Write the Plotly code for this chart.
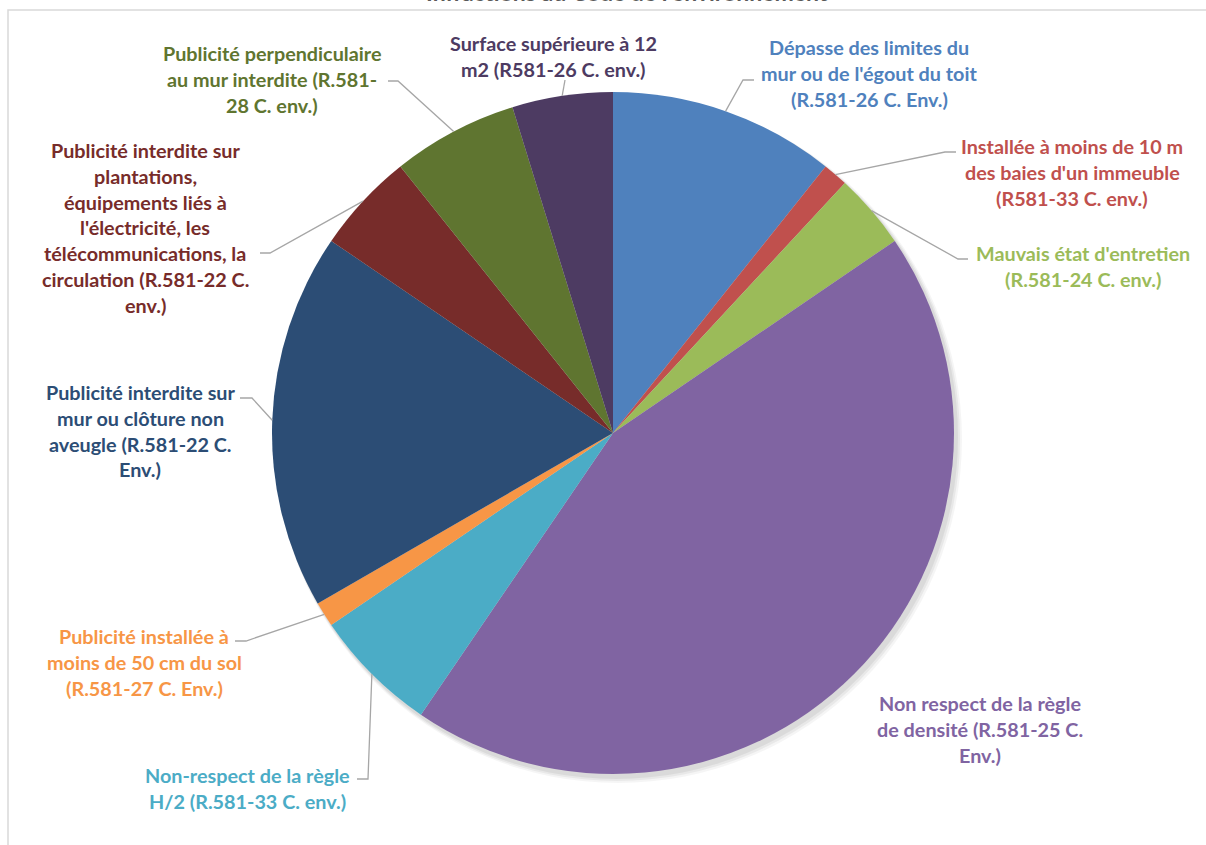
import math
import plotly.graph_objects as go

W, H = 1206, 845
FONT = "Lato"

# data
categories = [
    "Dépasse des limites du mur ou de l'égout du toit (R.581-26 C. Env.)",
    "Installée à moins de 10 m des baies d'un immeuble (R581-33 C. env.)",
    "Mauvais état d'entretien (R.581-24 C. env.)",
    "Non respect de la règle de densité (R.581-25 C. Env.)",
    "Non-respect de la règle H/2 (R.581-33 C. env.)",
    "Publicité installée à moins de 50 cm du sol (R.581-27 C. Env.)",
    "Publicité interdite sur mur ou clôture non aveugle (R.581-22 C. Env.)",
    "Publicité interdite sur plantations, équipements liés à l'électricité, "
    "les télécommunications, la circulation (R.581-22 C. env.)",
    "Publicité perpendiculaire au mur interdite (R.581-28 C. env.)",
    "Surface supérieure à 12 m2 (R581-26 C. env.)",
]
counts = [9, 1, 3, 37, 5, 1, 15, 4, 5, 4]
label_lines = [
    ["Dépasse des limites du", "mur ou de l'égout du toit", "(R.581-26 C. Env.)"],
    ["Installée à moins de 10 m", "des baies d'un immeuble", "(R581-33 C. env.)"],
    ["Mauvais état d'entretien", "(R.581-24 C. env.)"],
    ["Non respect de la règle", "de densité (R.581-25 C.", "Env.)"],
    ["Non-respect de la règle", "H/2 (R.581-33 C. env.)"],
    ["Publicité installée à", "moins de 50 cm du sol", "(R.581-27 C. Env.)"],
    ["Publicité interdite sur", "mur ou clôture non", "aveugle (R.581-22 C.", "Env.)"],
    ["Publicité interdite sur", "plantations,", "équipements liés à", "l'électricité, les",
     "télécommunications, la", "circulation (R.581-22 C.", "env.)"],
    ["Publicité perpendiculaire", "au mur interdite (R.581-", "28 C. env.)"],
    ["Surface supérieure à 12", "m2 (R581-26 C. env.)"],
]
title_text = "Infractions au Code de l'environnement"

colors = ["#4F81BD", "#C0504D", "#9BBB59", "#8064A2", "#4BACC6",
          "#F79646", "#2C4D75", "#772C2A", "#5F7530", "#4D3B62"]

# layout of the labels (pixels): centre x, y of first line
label_pos = [(869, 47), (1072, 146), (1083, 253), (980, 703), (247, 775),
             (144, 636), (140, 392), (145, 150), (272, 53), (553, 43)]
LINE_STEP = 25.8
# leader lines: elbow point and end point (None = no leader)
leaders = [((743, 80), (754, 80)), ((945, 152), (956, 152)), ((958, 259), (968, 259)),
           None, ((368, 779), (357, 779)), ((246, 641), (235, 641)),
           ((252, 398), (240, 398)), ((270, 253), (260, 253)),
           ((398, 81), (388, 81)), ((565, 80), (565, 80))]

CX, CY, R = 613, 433, 341


def px(x, y):
    return x / W, 1 - y / H


fig = go.Figure()
fig.add_trace(go.Pie(
    labels=categories, values=counts, sort=False, direction="clockwise", rotation=0,
    marker=dict(colors=colors, line=dict(width=0)), textinfo="none", hoverinfo="label+value",
    domain=dict(x=[(CX - R) / W, (CX + R) / W], y=[1 - (CY + R) / H, 1 - (CY - R) / H]),
    showlegend=False,
))

shapes = []
# soft shadow under the pie
for k, op in [(6, 0.04), (4, 0.05), (2, 0.06)]:
    x0, y0 = px(CX - R + 2, CY - R + 3)
    x1, y1 = px(CX + R + 2 + k, CY + R + 3 + k)
    shapes.append(dict(type="circle", xref="paper", yref="paper", x0=x0, x1=x1, y0=y1, y1=y0,
                       fillcolor=f"rgba(0,0,0,{op})", line=dict(width=0), layer="below"))

# border of the chart area
bx0, by0 = px(8, 10)
shapes.append(dict(type="rect", xref="paper", yref="paper", x0=bx0, y0=-0.05, x1=1.05, y1=by0,
                   line=dict(color="#D9D9D9", width=1.5), layer="below"))

total = sum(counts)
cum = 0
for i, v in enumerate(counts):
    mid = (cum + v / 2) / total * 2 * math.pi
    cum += v
    if leaders[i] is None:
        continue
    ax, ay = CX + R * math.sin(mid), CY - R * math.cos(mid)
    (ex, ey), (fx, fy) = leaders[i]
    pts = [px(ax, ay), px(ex, ey), px(fx, fy)]
    path = "M {} {} L {} {} L {} {}".format(*[c for p in pts for c in p])
    shapes.append(dict(type="path", xref="paper", yref="paper", path=path,
                       line=dict(color="#A6A6A6", width=1.3)))

annotations = []
for lines, (lx, ly), col in zip(label_lines, label_pos, colors):
    for j, line in enumerate(lines):
        x, y = px(lx, ly + j * LINE_STEP)
        annotations.append(dict(text=f"<b>{line}</b>", x=x, y=y, xref="paper", yref="paper",
                                xanchor="center", yanchor="middle", showarrow=False,
                                font=dict(family=FONT, size=19.8, color=col)))

# title, almost entirely cropped off the top
tx, ty = px(627, -8)
annotations.append(dict(text=f"<b>{title_text}</b>", x=tx, y=ty, xref="paper", yref="paper",
                        xanchor="center", yanchor="middle", showarrow=False,
                        font=dict(family=FONT, size=23, color="#595959")))

fig.update_layout(width=W, height=H, margin=dict(l=0, r=0, t=0, b=0),
                  paper_bgcolor="white", plot_bgcolor="white",
                  shapes=shapes, annotations=annotations)
fig.write_html("out.html", config={"displayModeBar": False},
               post_script="document.body.style.margin='0';document.body.style.overflow='hidden';")
